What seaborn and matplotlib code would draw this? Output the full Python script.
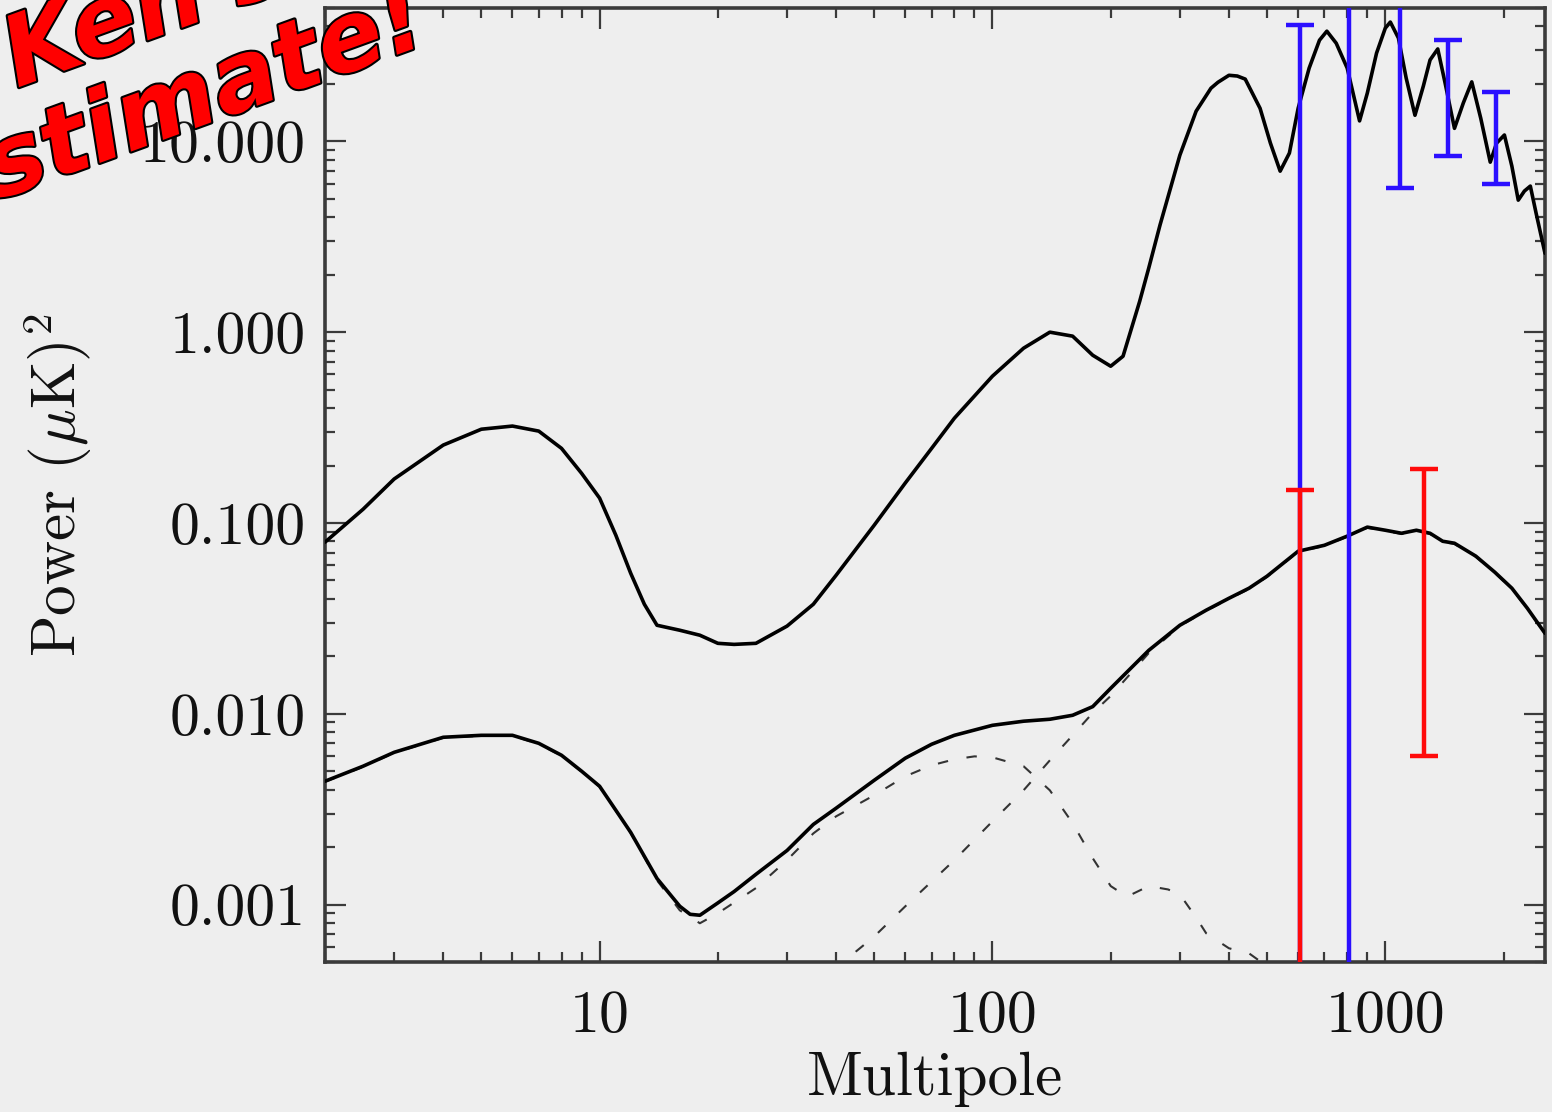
import numpy as np
import pandas as pd
import matplotlib
matplotlib.use("Agg")
import matplotlib.pyplot as plt
import matplotlib.patheffects as pe
from matplotlib.ticker import LogLocator, NullFormatter, FixedLocator, FixedFormatter
import seaborn as sns

# ---------------- data ----------------
ell_upper = [2, 2.5, 3, 4, 5, 6, 7, 8, 9, 10, 11, 12, 13, 14, 16, 18, 20, 22, 25, 30,
             35, 40, 50, 60, 70, 80, 100, 120, 140, 160, 180, 200, 215, 237, 250, 267,
             300, 330, 360, 375, 400, 420, 440, 480, 510, 540, 570, 600, 640, 680, 710, 750, 800,
             860, 900, 950, 1000, 1030, 1080, 1130, 1190, 1250, 1300, 1360, 1420, 1500,
             1580, 1660, 1750, 1850, 1920, 2010, 2100, 2180, 2260, 2340, 2420, 2550]
power_upper = [0.0793, 0.118, 0.170, 0.256, 0.310, 0.322, 0.303, 0.246, 0.182, 0.135,
               0.0862, 0.0545, 0.0375, 0.0291, 0.0274, 0.0258, 0.0234, 0.0231, 0.0234, 0.0288,
               0.0375, 0.0532, 0.0973, 0.162, 0.246, 0.354, 0.588, 0.824, 1.0, 0.953,
               0.757, 0.663, 0.748, 1.45, 2.17, 3.64,
               8.47, 14.4, 19.0, 20.4, 22.2, 22.0, 21.2, 14.9, 9.79, 6.98, 8.68, 14.9, 24.2, 33.9, 37.8,
               32.7, 24.2, 12.8, 17.9, 29.0, 39.2, 42.2, 34.8, 21.5, 13.7, 19.5, 26.7, 30.5,
               20.2, 11.7, 15.9, 20.5, 13.2, 7.78, 9.79, 10.8, 7.41, 4.92, 5.49, 5.83, 4.21, 2.59]

ell_lower = [2, 2.5, 3, 4, 5, 6, 7, 8, 9, 10, 11, 12, 13, 14, 16, 17, 18, 20, 22, 25,
             30, 35, 40, 50, 60, 70, 80, 100, 120, 140, 160, 180, 200, 250, 300, 350, 400,
             450, 500, 600, 700, 800, 900, 1000, 1100, 1200, 1300, 1400, 1500, 1700, 1900,
             2100, 2300, 2550]
power_lower = [0.00443, 0.00531, 0.00628, 0.00753, 0.00771, 0.00771, 0.00700, 0.00606, 0.00500, 0.00417,
               0.00312, 0.00239, 0.00179, 0.00137, 0.00098, 0.000889, 0.000879, 0.00102, 0.00117, 0.00144,
               0.00192, 0.00263, 0.00320, 0.00448, 0.00585, 0.00692, 0.00771, 0.00870, 0.00914, 0.00936,
               0.00982, 0.0109, 0.0136, 0.0215, 0.0291, 0.0349, 0.0403, 0.0455, 0.0526, 0.0711,
               0.0764, 0.0853, 0.0951, 0.0916, 0.0883, 0.0916, 0.0883, 0.0802, 0.0783, 0.0670,
               0.0552, 0.0455, 0.0357, 0.0264]

ell_dash_a = [2, 2.5, 3, 4, 5, 6, 7, 8, 9, 10, 11, 12, 13, 14, 16, 18, 20, 25, 30, 35,
              40, 50, 60, 70, 80, 90, 100, 120, 140, 160, 180, 200, 220, 250, 280, 300,
              330, 350, 400, 450, 500]
power_dash_a = [0.00440, 0.00527, 0.00624, 0.00748, 0.00766, 0.00766, 0.00695, 0.00602, 0.00497, 0.00414,
                0.00310, 0.00237, 0.00177, 0.00134, 0.000933, 0.000798, 0.000900, 0.00122, 0.00171, 0.00236,
                0.00290, 0.00374, 0.00470, 0.00537, 0.00577, 0.00598, 0.00591, 0.00531, 0.00397, 0.00267,
                0.00175, 0.00125, 0.00110, 0.00125, 0.00120, 0.00113, 0.000855, 0.000707, 0.000590,
                0.000555, 0.000475]

ell_dash_b = [40, 45, 50, 60, 70, 80, 100, 120, 140, 160, 180, 200, 250, 300, 350, 400, 450,
              500, 600, 700, 800, 900, 1000, 1100, 1200, 1300, 1400, 1500, 1700, 1900, 2100,
              2300, 2550]
power_dash_b = [0.000436, 0.000569, 0.000680, 0.000979, 0.00132, 0.00171, 0.00273, 0.00397,
                0.00570, 0.00771, 0.0101, 0.0124, 0.0208, 0.0288, 0.0346, 0.0400, 0.0451,
                0.0522, 0.0706, 0.0758, 0.0847, 0.0944, 0.0909, 0.0876, 0.0909, 0.0876,
                0.0796, 0.0777, 0.0665, 0.0548, 0.0452, 0.0354, 0.0262]

# error bars: low / high ends (values beyond the axes are clipped)
blue_ell = [607, 809, 1091, 1448, 1909]
blue_low = [1e-5, 1e-5, 5.67, 8.35, 5.96]
blue_high = [40.5, 1e3, 1e3, 33.8, 18.1]
red_ell = [607, 1257]
red_low = [1e-5, 0.00603]
red_high = [0.149, 0.192]

x_ticks = [10, 100, 1000]
x_tick_labels = ["10", "100", "1000"]
y_ticks = [0.001, 0.01, 0.1, 1, 10]
y_tick_labels = ["0.001", "0.010", "0.100", "1.000", "10.000"]

# ---------------- style ----------------
sns.set_theme(style="ticks")
plt.rcParams["font.family"] = ["cmr10", "DejaVu Serif"]
plt.rcParams["mathtext.fontset"] = "cm"
plt.rcParams["axes.formatter.use_mathtext"] = True
plt.rcParams["axes.unicode_minus"] = False

BG = "#eeeeee"
SPINE = "#3a3a3a"
W, H = 1552, 1112
fig = plt.figure(figsize=(W / 100, H / 100), dpi=100, facecolor=BG)
ax = fig.add_axes([325 / W, 1 - 962 / H, (1545 - 325) / W, (962 - 8) / H])
ax.set_facecolor(BG)
ax.set_xscale("log")
ax.set_yscale("log")

df_up = pd.DataFrame({"ell": ell_upper, "power": power_upper})
df_lo = pd.DataFrame({"ell": ell_lower, "power": power_lower})
df_a = pd.DataFrame({"ell": ell_dash_a, "power": power_dash_a})
df_b = pd.DataFrame({"ell": ell_dash_b, "power": power_dash_b})

dash_style = (0, (5, 9))
sns.lineplot(data=df_a, x="ell", y="power", ax=ax, color="#333333", lw=1.5,
             linestyle=dash_style, estimator=None, sort=False, legend=False, zorder=2)
sns.lineplot(data=df_b, x="ell", y="power", ax=ax, color="#333333", lw=1.5,
             linestyle=dash_style, estimator=None, sort=False, legend=False, zorder=2)
sns.lineplot(data=df_lo, x="ell", y="power", ax=ax, color="black", lw=2.6,
             estimator=None, sort=False, legend=False, zorder=3)
sns.lineplot(data=df_up, x="ell", y="power", ax=ax, color="black", lw=2.6,
             estimator=None, sort=False, legend=False, zorder=3)


def draw_bars(xs, lo, hi, color, z):
    xs = np.asarray(xs, float)
    lo = np.asarray(lo, float)
    hi = np.asarray(hi, float)
    mid = np.sqrt(lo * hi)
    ax.errorbar(xs, mid, yerr=[mid - lo, hi - mid], fmt="none", ecolor=color,
                elinewidth=3.2, capsize=10, capthick=3.2, zorder=z)


draw_bars(blue_ell, blue_low, blue_high, "#2b0fff", 4)
draw_bars(red_ell, red_low, red_high, "#ff0a0a", 5)

ax.set_xlim(2, 2550)
ax.set_ylim(5e-4, 50)

ax.xaxis.set_major_locator(FixedLocator(x_ticks))
ax.xaxis.set_major_formatter(FixedFormatter(x_tick_labels))
ax.yaxis.set_major_locator(FixedLocator(y_ticks))
ax.yaxis.set_major_formatter(FixedFormatter(y_tick_labels))
ax.xaxis.set_minor_locator(LogLocator(base=10, subs=np.arange(2, 10), numticks=20))
ax.yaxis.set_minor_locator(LogLocator(base=10, subs=np.arange(2, 10), numticks=20))
ax.xaxis.set_minor_formatter(NullFormatter())
ax.yaxis.set_minor_formatter(NullFormatter())

ax.tick_params(which="both", direction="in", top=True, right=True,
               color=SPINE, labelcolor="#111111", labelsize=43)
ax.tick_params(which="major", length=15, width=1.6)
ax.tick_params(which="minor", length=7, width=1.6)
ax.tick_params(axis="y", which="major", pad=14)
ax.tick_params(axis="x", which="major", pad=20)
for s in ax.spines.values():
    s.set_color(SPINE)
    s.set_linewidth(2.6)

ax.set_xlabel("Multipole", fontsize=44, color="#111111", labelpad=6)
ax.set_ylabel(r"Power $(\mu{\rm K})^2$", fontsize=44, color="#111111", labelpad=33)

# decorative overlay text (partly cut off by the figure edge, as in the source)
stroke = [pe.withStroke(linewidth=3, foreground="black")]
fig.text(0.011, 0.921, "Ken's", rotation=20, rotation_mode="anchor", ha="left",
         va="baseline", fontsize=70, family="DejaVu Sans", weight="bold", style="italic",
         color="#ff0000", path_effects=stroke, zorder=10)
fig.text(-0.041, 0.800, "Estimate!", rotation=20, rotation_mode="anchor", ha="left",
         va="baseline", fontsize=70, family="DejaVu Sans", weight="bold", style="italic",
         color="#ff0000", path_effects=stroke, zorder=10)

fig.savefig("out.png", dpi=100, facecolor=BG)
